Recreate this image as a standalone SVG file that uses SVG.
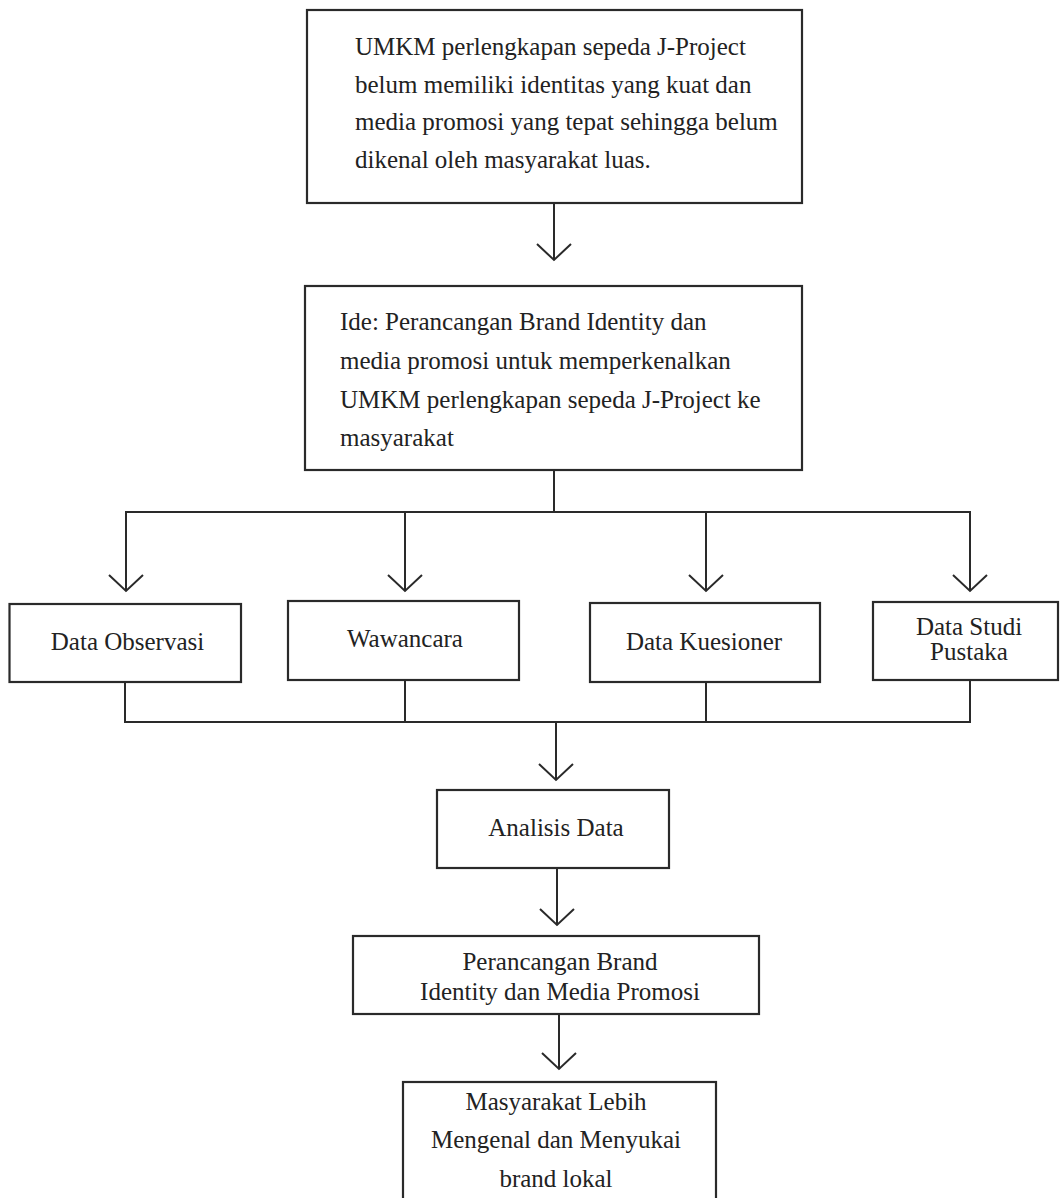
<svg xmlns="http://www.w3.org/2000/svg" width="1060" height="1198" viewBox="0 0 1060 1198">
<style>
.box{fill:#fff;stroke:#2a2a2a;stroke-width:2.2}
.ln{fill:none;stroke:#2a2a2a;stroke-width:2}
text{font-family:"Liberation Serif","Times New Roman",serif;font-size:25px;fill:#222}
.c{text-anchor:middle}
</style>
<defs>
<marker id="chev" markerUnits="userSpaceOnUse" markerWidth="40" markerHeight="40" viewBox="-20 -20 40 40" refX="0" refY="0" orient="auto" overflow="visible">
<path d="M-16,-17 L0,0 L-16,17" fill="none" stroke="#2a2a2a" stroke-width="2"/>
</marker>
</defs>
<rect width="1060" height="1198" fill="#fff"/>
<g id="connectors">
<line class="ln" x1="554" y1="203" x2="554" y2="260" marker-end="url(#chev)"/>
<line class="ln" x1="554" y1="470" x2="554" y2="512"/>
<line class="ln" x1="125" y1="512" x2="971" y2="512"/>
<line class="ln" x1="126" y1="512" x2="126" y2="591" marker-end="url(#chev)"/>
<line class="ln" x1="405" y1="512" x2="405" y2="591" marker-end="url(#chev)"/>
<line class="ln" x1="706" y1="512" x2="706" y2="591" marker-end="url(#chev)"/>
<line class="ln" x1="970" y1="512" x2="970" y2="591" marker-end="url(#chev)"/>
<line class="ln" x1="125" y1="682" x2="125" y2="722"/>
<line class="ln" x1="405" y1="680" x2="405" y2="722"/>
<line class="ln" x1="706" y1="682" x2="706" y2="722"/>
<line class="ln" x1="970" y1="680" x2="970" y2="722"/>
<line class="ln" x1="124" y1="722" x2="971" y2="722"/>
<line class="ln" x1="556" y1="722" x2="556" y2="780" marker-end="url(#chev)"/>
<line class="ln" x1="557" y1="868" x2="557" y2="925" marker-end="url(#chev)"/>
<line class="ln" x1="559" y1="1014" x2="559" y2="1069" marker-end="url(#chev)"/>
</g>
<g id="node-problem">
<rect class="box" x="307" y="10" width="495" height="193"/>
<text x="355" y="55">UMKM perlengkapan sepeda J-Project</text>
<text x="355" y="93">belum memiliki identitas yang kuat dan</text>
<text x="355" y="130">media promosi yang tepat sehingga belum</text>
<text x="355" y="168">dikenal oleh masyarakat luas.</text>
</g>
<g id="node-idea">
<rect class="box" x="305" y="286" width="497" height="184"/>
<text x="340" y="330">Ide: Perancangan Brand Identity dan</text>
<text x="340" y="369">media promosi untuk memperkenalkan</text>
<text x="340" y="408">UMKM perlengkapan sepeda J-Project ke</text>
<text x="340" y="446">masyarakat</text>
</g>
<g id="node-observasi">
<rect class="box" x="9.5" y="604" width="231.5" height="78"/>
<text class="c" x="127.5" y="650">Data Observasi</text>
</g>
<g id="node-wawancara">
<rect class="box" x="288" y="601" width="231" height="79"/>
<text class="c" x="405" y="647">Wawancara</text>
</g>
<g id="node-kuesioner">
<rect class="box" x="590" y="603" width="230" height="79"/>
<text class="c" x="704" y="650">Data Kuesioner</text>
</g>
<g id="node-studi">
<rect class="box" x="873" y="602" width="185" height="78"/>
<text class="c" x="969" y="635">Data Studi</text>
<text class="c" x="969" y="660">Pustaka</text>
</g>
<g id="node-analisis">
<rect class="box" x="437" y="790" width="232" height="78"/>
<text class="c" x="556" y="836">Analisis Data</text>
</g>
<g id="node-perancangan">
<rect class="box" x="353" y="936" width="406" height="78"/>
<text class="c" x="560" y="970">Perancangan Brand</text>
<text class="c" x="560" y="1000">Identity dan Media Promosi</text>
</g>
<g id="node-hasil">
<rect class="box" x="403" y="1082" width="313" height="130"/>
<text class="c" x="556" y="1110">Masyarakat Lebih</text>
<text class="c" x="556" y="1148">Mengenal dan Menyukai</text>
<text class="c" x="556" y="1187">brand lokal</text>
</g>
</svg>
